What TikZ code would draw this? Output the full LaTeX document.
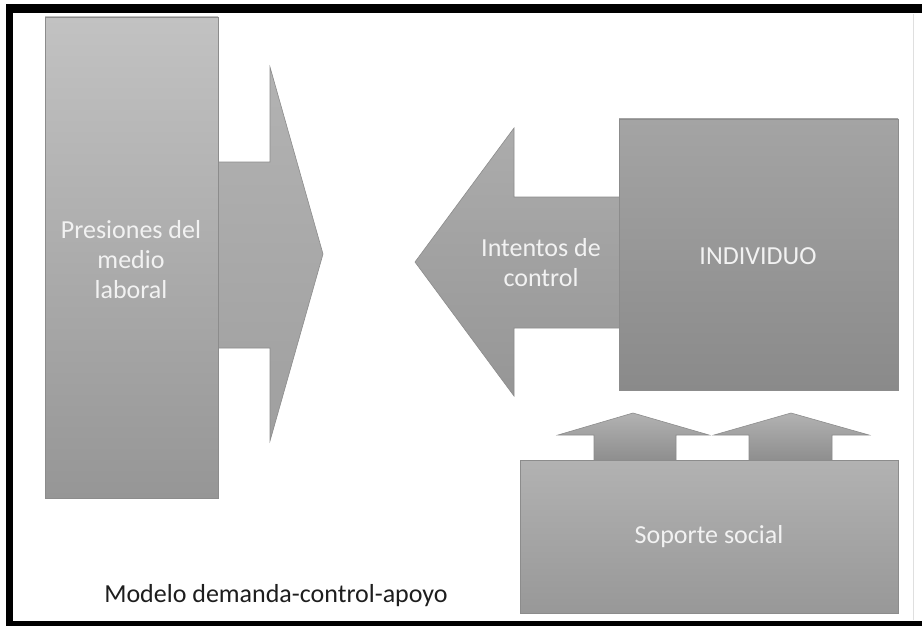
\documentclass[tikz,border=0pt]{standalone}
\usepackage{fontspec}
\setmainfont{Carlito}
\usetikzlibrary{calc}
\definecolor{txtw}{HTML}{F2F2F2}
\definecolor{edge}{HTML}{8C8C8C}
\tikzset{
  shape3d/.style={draw=edge, line width=0.6pt, line join=miter},
  lbl/.style={text=txtw, font=\fontsize{26}{30}\selectfont, align=center, inner sep=0pt},
}
\begin{document}
\begin{tikzpicture}[x=1pt,y=-1pt]
\useasboundingbox (0,0) rectangle (922,626);
\fill[white] (0,0) rectangle (922,626);
% frame
\fill[black] (6,4) rectangle (922,13.5);
\fill[black] (6,4) rectangle (12.5,626);
\fill[black] (6,621) rectangle (922,626);
\draw[gray!25, line width=0.8pt] (913,14) -- (913,620);

% right-pointing arrow
\shade[shape3d, top color=gray!60!white, bottom color=gray!75!white]
  (215,162) -- (270,162) -- (270,67) -- (323,254) -- (270,441) -- (270,348) -- (215,348) -- cycle;
% Presiones rect
\shade[shape3d, top color={rgb,255:red,194;green,194;blue,194}, bottom color={rgb,255:red,150;green,150;blue,150}]
  (45,17) rectangle (218,498);

% left-pointing arrow
\shade[shape3d, top color={rgb,255:red,172;green,172;blue,172}, bottom color={rgb,255:red,150;green,150;blue,150}]
  (622,197) -- (514,197) -- (514,128) -- (415,262) -- (514,396) -- (514,328) -- (622,328) -- cycle;
% INDIVIDUO rect
\shade[shape3d, top color={rgb,255:red,164;green,164;blue,164}, bottom color={rgb,255:red,138;green,138;blue,138}]
  (619,119) rectangle (898,390);

% up arrows
\shade[shape3d, top color={rgb,255:red,178;green,178;blue,178}, bottom color={rgb,255:red,140;green,140;blue,140}]
  (594,463) -- (594,435) -- (558,435) -- (633,413) -- (709,435) -- (676,435) -- (676,463) -- cycle;
\shade[shape3d, top color={rgb,255:red,178;green,178;blue,178}, bottom color={rgb,255:red,140;green,140;blue,140}]
  (749,463) -- (749,435) -- (714,435) -- (791,413) -- (869,435) -- (832,435) -- (832,463) -- cycle;
% Soporte rect
\shade[shape3d, top color={rgb,255:red,178;green,178;blue,178}, bottom color={rgb,255:red,152;green,152;blue,152}]
  (520,460) rectangle (898,613);

% labels
\node[lbl] (pres) at (131,260) {Presiones del\\medio\\laboral};
\node[lbl] (inte) at (541,263) {Intentos de\\control};
\node[lbl] (indi) at (758,256) {INDIVIDUO};
\node[lbl] (sopo) at (709,537) {Soporte social};
\node[text={rgb,255:red,30;green,30;blue,30}, font=\fontsize{26}{30}\selectfont, inner sep=0pt] (mod) at (276,596) {Modelo demanda-control-apoyo};
\end{tikzpicture}
\end{document}
